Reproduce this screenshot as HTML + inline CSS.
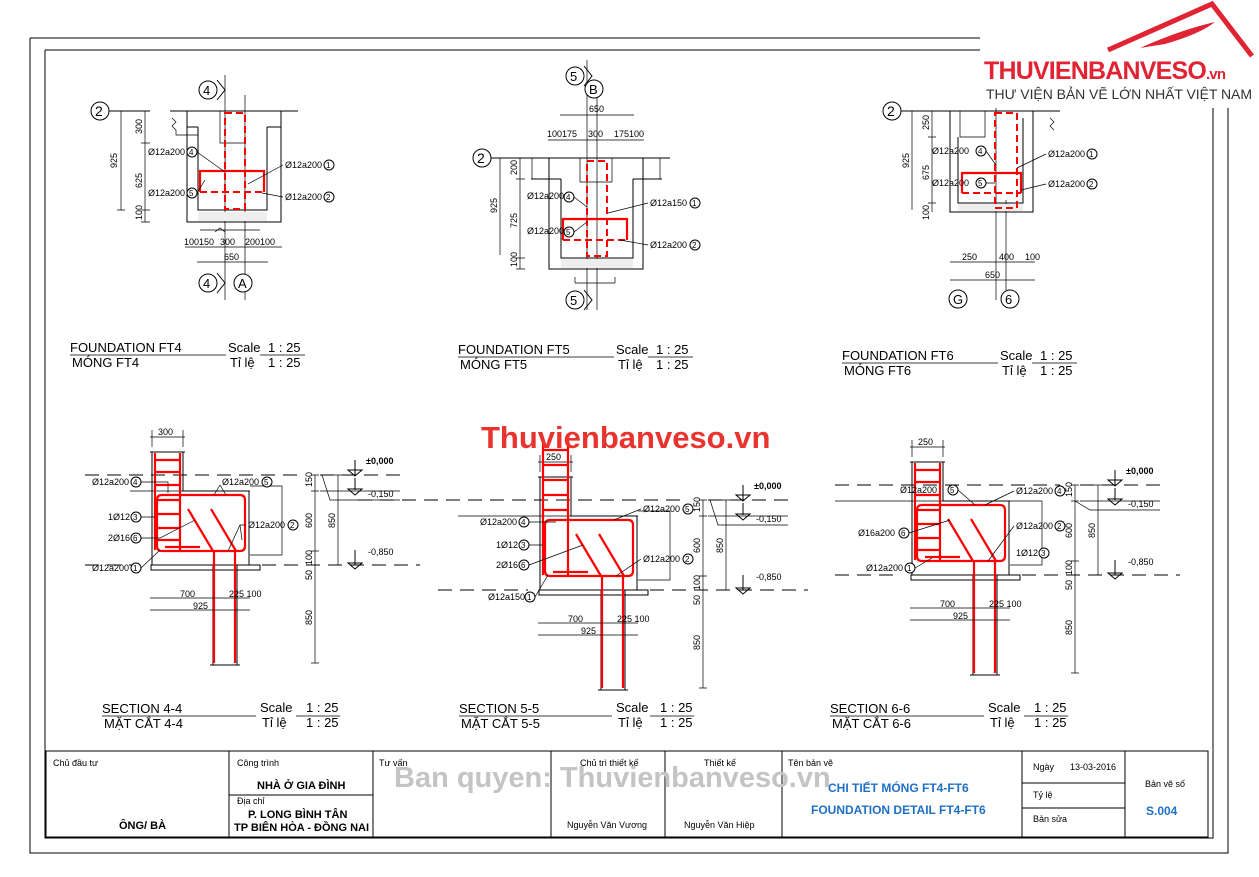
<!DOCTYPE html>
<html><head><meta charset="utf-8"><style>
html,body{margin:0;padding:0;background:#fff;}
svg{display:block;font-family:"Liberation Sans",Arial,sans-serif;}
.t{font-size:9px;fill:#000}
.ti{font-size:13px;fill:#000}
.k{stroke:#000;stroke-width:1;fill:none}
.kt{stroke:#000;stroke-width:0.7;fill:none}
.r{stroke:#f00;stroke-width:2.2;fill:none}
.rd{stroke:#f00;stroke-width:2;fill:none;stroke-dasharray:7 4}
.dsh{stroke:#000;stroke-width:1;fill:none;stroke-dasharray:14 8}
.c{fill:#fff;stroke:#000;stroke-width:1}
</style></head><body>
<svg width="1259" height="877" viewBox="0 0 1259 877">
<path class="k" d="M30 38 H980 M30 38 V853 H1228 V100" stroke-width="1.3"/>
<path class="k" d="M45 50 H980 M45 50 V838 H1213 V100"/>

<g>
<circle class="c" cx="100" cy="111" r="9"/><text x="95" y="116" font-size="14">2</text>
<path class="k" d="M109 111 H150 M170 111 H298"/>
<path class="k" d="M187 111 V222 H281 V111 M198 127 V210 H267 V127 M187 127 H198 M267 127 H281"/>
<path class="kt" d="M172 118 l4 4 -4 4 4 4 M176 130 V135 H198 M220 111 V143 H246"/>
<path class="kt" d="M225 75 V300 M245 95 V300 M215 232 l5 -4 5 4 M200 230 H260"/>
<rect x="198" y="212" width="69" height="9" fill="#eee"/>
<rect class="rd" x="225" y="113" width="20" height="96"/>
<path class="r" d="M200 192 V171 H264 V192"/>
<path class="rd" d="M200 192 H264"/>
<circle class="c" cx="208" cy="90" r="9"/><text x="203" y="95" font-size="13">4</text>
<path class="k" d="M217 80 L225 90 L217 100"/>
<circle class="c" cx="208" cy="283" r="9"/><text x="203" y="288" font-size="13">4</text>
<path class="k" d="M217 273 L225 283 L217 293"/>
<circle class="c" cx="243" cy="283" r="9"/><text x="238" y="288" font-size="13">A</text>
<path class="kt" d="M121 111 V210 M117 111 H125 M117 210 H125 M145 111 V222 M141 111 H150 M141 143 H150 M141 210 H150 M141 222 H150"/>
<text class="t" transform="translate(117 168) rotate(-90)">925</text>
<text class="t" transform="translate(142 134) rotate(-90)">300</text>
<text class="t" transform="translate(142 188) rotate(-90)">625</text>
<text class="t" transform="translate(142 220) rotate(-90)">100</text>
<path class="kt" d="M185 247 H282 M197 262 H268"/>
<text class="t" x="184" y="245">100150</text><text class="t" x="220" y="245">300</text><text class="t" x="245" y="245">200100</text>
<text class="t" x="224" y="260">650</text>
<text class="t" x="148" y="155">Ø12a200</text><circle class="c" cx="192" cy="152" r="5"/><text x="189" y="155" font-size="8">4</text>
<text class="t" x="148" y="196">Ø12a200</text><circle class="c" cx="192" cy="193" r="5"/><text x="189" y="196" font-size="8">5</text>
<text class="t" x="285" y="168">Ø12a200</text><circle class="c" cx="329" cy="165" r="5"/><text x="326" y="168" font-size="8">1</text>
<text class="t" x="285" y="200">Ø12a200</text><circle class="c" cx="329" cy="197" r="5"/><text x="326" y="200" font-size="8">2</text>
<path class="kt" d="M197 152 L225 172 M197 193 L205 180 M283 165 L248 184 M283 197 L262 193"/>
</g>

<g>
<circle class="c" cx="482" cy="158" r="9"/><text x="477" y="163" font-size="14">2</text>
<path class="k" d="M491 158 H670"/>
<path class="k" d="M549 158 V269 H643 V158 M561 179 V258 H633 V179 M531 179 H561 M633 179 H662"/>
<path class="kt" d="M532 158 V179 M660 158 V179 M580 158 V182 H612 V158 M587 60 V310 M597 80 V310 M575 283 H615 M575 283 V277 M615 283 V277"/>
<rect x="561" y="259" width="72" height="9" fill="#eee"/>
<rect class="rd" x="587" y="161" width="20" height="95"/>
<path class="r" d="M563 240 V219 H627 V240"/>
<path class="rd" d="M563 240 H627"/>
<circle class="c" cx="575" cy="76" r="9"/><text x="570" y="81" font-size="13">5</text>
<path class="k" d="M584 66 L592 76 L584 86"/>
<circle class="c" cx="594" cy="89" r="9"/><text x="589" y="94" font-size="13">B</text>
<circle class="c" cx="575" cy="300" r="9"/><text x="570" y="305" font-size="13">5</text>
<path class="k" d="M584 290 L592 300 L584 310"/>
<path class="kt" d="M560 115 H634 M548 140 H644"/>
<text class="t" x="589" y="112">650</text>
<text class="t" x="547" y="137">100175</text><text class="t" x="588" y="137">300</text><text class="t" x="614" y="137">175100</text>
<path class="kt" d="M500 158 V255 M520 158 V269 M516 158 H525 M516 179 H525 M516 258 H525 M516 269 H525"/>
<text class="t" transform="translate(497 213) rotate(-90)">925</text>
<text class="t" transform="translate(517 175) rotate(-90)">200</text>
<text class="t" transform="translate(517 228) rotate(-90)">725</text>
<text class="t" transform="translate(517 267) rotate(-90)">100</text>
<text class="t" x="527" y="199">Ø12a200</text><circle class="c" cx="569" cy="197" r="5"/><text x="566" y="200" font-size="8">4</text>
<text class="t" x="527" y="234">Ø12a200</text><circle class="c" cx="569" cy="232" r="5"/><text x="566" y="235" font-size="8">5</text>
<text class="t" x="650" y="206">Ø12a150</text><circle class="c" cx="695" cy="203" r="5"/><text x="692" y="206" font-size="8">1</text>
<text class="t" x="650" y="248">Ø12a200</text><circle class="c" cx="695" cy="245" r="5"/><text x="692" y="248" font-size="8">2</text>
<path class="kt" d="M574 197 L587 207 M574 232 L587 222 M648 203 L608 213 M648 245 L620 240"/>
</g>

<g>
<circle class="c" cx="892" cy="111" r="9"/><text x="887" y="116" font-size="14">2</text>
<path class="k" d="M901 111 H1060"/>
<path class="k" d="M950 111 V212 H1033 V111 M958 137 V203 H1023 V118"/>
<path class="kt" d="M960 111 V137 H985 V111 M1050 118 l4 4 -4 4 4 4 M996 95 V300 M1006 200 V300"/>
<rect x="958" y="204" width="65" height="7" fill="#eee"/>
<rect class="rd" x="995" y="113" width="22" height="95"/>
<path class="r" d="M962 193 V173 H1021 V193"/>
<path class="rd" d="M962 193 H1021"/>
<circle class="c" cx="958" cy="299" r="9"/><text x="953" y="304" font-size="13">G</text>
<circle class="c" cx="1010" cy="299" r="9"/><text x="1005" y="304" font-size="13">6</text>
<path class="kt" d="M912 111 V210 M932 111 V212 M928 111 H936 M928 137 H936 M928 203 H936"/>
<text class="t" transform="translate(909 168) rotate(-90)">925</text>
<text class="t" transform="translate(929 130) rotate(-90)">250</text>
<text class="t" transform="translate(929 180) rotate(-90)">675</text>
<text class="t" transform="translate(929 220) rotate(-90)">100</text>
<path class="kt" d="M950 262 H1035 M950 280 H1035"/>
<text class="t" x="962" y="260">250</text><text class="t" x="999" y="260">400</text><text class="t" x="1025" y="260">100</text>
<text class="t" x="985" y="278">650</text>
<text class="t" x="932" y="154">Ø12a200</text><circle class="c" cx="981" cy="151" r="5"/><text x="978" y="154" font-size="8">4</text>
<text class="t" x="932" y="186">Ø12a200</text><circle class="c" cx="981" cy="183" r="5"/><text x="978" y="186" font-size="8">5</text>
<text class="t" x="1048" y="157">Ø12a200</text><circle class="c" cx="1092" cy="154" r="5"/><text x="1089" y="157" font-size="8">1</text>
<text class="t" x="1048" y="187">Ø12a200</text><circle class="c" cx="1092" cy="184" r="5"/><text x="1089" y="187" font-size="8">2</text>
<path class="kt" d="M986 151 L996 165 M986 183 L995 183 M1046 154 L1017 168 M1046 184 L1021 190"/>
</g>

<g class="ti">
<text x="70" y="352">FOUNDATION FT4</text><text x="228" y="352">Scale</text><text x="268" y="352">1 : 25</text>
<text x="72" y="367">MÓNG FT4</text><text x="230" y="367">Tỉ lệ</text><text x="268" y="367">1 : 25</text>
<path class="kt" d="M70 355 H226 M260 355 H305"/>
<text x="458" y="354">FOUNDATION FT5</text><text x="616" y="354">Scale</text><text x="656" y="354">1 : 25</text>
<text x="460" y="369">MÓNG FT5</text><text x="618" y="369">Tỉ lệ</text><text x="656" y="369">1 : 25</text>
<path class="kt" d="M458 357 H614 M648 357 H693"/>
<text x="842" y="360">FOUNDATION FT6</text><text x="1000" y="360">Scale</text><text x="1040" y="360">1 : 25</text>
<text x="844" y="375">MÓNG FT6</text><text x="1002" y="375">Tỉ lệ</text><text x="1040" y="375">1 : 25</text>
<path class="kt" d="M842 363 H998 M1032 363 H1077"/>
</g>

<g>
<path class="kt" d="M152 430 V447 M183 430 V447 M150 437 H185"/>
<text class="t" x="158" y="435">300</text>
<path class="k" d="M150 452 H185 M152 452 V565 M183 452 V491 H249 V565 M152 565 H249 M200 565 H255"/>
<path class="k" d="M151 565 H260 V570 H151 Z" fill="#f4f4f4"/>
<path class="k" d="M213 565 V665 M237 565 V665 M210 665 H240"/>
<path class="dsh" d="M85 475 H300 M320 475 H400 M85 565 H140 M262 565 H420"/>
<path class="kt" d="M130 491 H250 M320 491 H400 M250 486 H282 V555 H250"/>
<path class="r" d="M155 453 V550 M180 453 V550 M155 460 H180 M155 472 H180 M155 485 H180 M155 500 H180 M155 514 H180 M155 528 H180 M155 540 H180"/>
<path class="r" d="M162 495 H240 Q245 495 245 500 V546 Q245 551 240 551 H162 Q157 551 157 546 V500 Q157 495 162 495 M165 547 H200"/>
<path class="r" d="M188 509 L213 551 M211 509 L236 551 M214 551 V663 M235 551 V663"/>
<path class="kt" d="M315 475 V663 M311 475 H319 M311 491 H319 M311 551 H319 M311 565 H319 M311 663 H319 M338 475 V565 M334 475 H342 M334 565 H342"/>
<text class="t" transform="translate(312 487) rotate(-90)">150</text>
<text class="t" transform="translate(312 528) rotate(-90)">600</text>
<text class="t" transform="translate(312 565) rotate(-90)">100</text>
<text class="t" transform="translate(312 580) rotate(-90)">50</text>
<text class="t" transform="translate(312 625) rotate(-90)">850</text>
<text class="t" transform="translate(335 528) rotate(-90)">850</text>
<path class="k" d="M355 460 V475 M348 470 H362 L355 476 Z M355 478 V490 M348 489 H362 L355 495 Z M355 550 V565 M348 563 H362 L355 569 Z" fill="#000"/>
<path class="kt" d="M322 475 L330 500 H400"/>
<text class="t" x="366" y="464" font-size="11" font-weight="bold">±0,000</text>
<text class="t" x="368" y="497" font-size="11">-0,150</text>
<text class="t" x="368" y="555" font-size="11">-0,850</text>
<path class="kt" d="M150 598 H250 M150 610 H250"/>
<text class="t" x="180" y="597">700</text><text class="t" x="229" y="597">225 100</text>
<text class="t" x="193" y="609">925</text>
<text class="t" x="92" y="485">Ø12a200</text><circle class="c" cx="136" cy="482" r="5"/><text x="133" y="485" font-size="8">4</text>
<text class="t" x="108" y="520">1Ø12</text><circle class="c" cx="136" cy="517" r="5"/><text x="133" y="520" font-size="8">3</text>
<text class="t" x="108" y="541">2Ø16</text><circle class="c" cx="136" cy="538" r="5"/><text x="133" y="541" font-size="8">6</text>
<text class="t" x="92" y="571">Ø12a200</text><circle class="c" cx="136" cy="568" r="5"/><text x="133" y="571" font-size="8">1</text>
<text class="t" x="222" y="485">Ø12a200</text><circle class="c" cx="267" cy="482" r="5"/><text x="264" y="485" font-size="8">5</text>
<text class="t" x="248" y="528">Ø12a200</text><circle class="c" cx="293" cy="525" r="5"/><text x="290" y="528" font-size="8">2</text>
<path class="kt" d="M141 482 H168 V493 M141 517 H155 M141 538 L160 538 L195 520 M141 568 L160 550 M220 485 L214 495 M220 485 L226 495 M246 525 L240 525 L228 551 M240 525 L242 540"/>
</g>
<g transform="translate(388 25)">
<path class="kt" d="M152 430 V447 M183 430 V447 M150 437 H185"/>
<text class="t" x="158" y="435">250</text>
<path class="k" d="M150 452 H185 M152 452 V565 M183 452 V491 H249 V565 M152 565 H249"/>
<path class="k" d="M151 565 H260 V570 H151 Z" fill="#f4f4f4"/>
<path class="k" d="M213 565 V665 M237 565 V665 M210 665 H240"/>
<path class="dsh" d="M-30 475 H300 M320 475 H400 M50 565 H140 M262 565 H420"/>
<path class="kt" d="M70 491 H250 M320 491 H400 M250 486 H282 V555 H250"/>
<path class="r" d="M155 418 V550 M180 418 V550 M155 425 H180 M155 440 H180 M155 455 H180 M155 470 H180 M155 485 H180"/>
<path class="r" d="M162 495 H240 Q245 495 245 500 V546 Q245 551 240 551 H162 Q157 551 157 546 V500 Q157 495 162 495 M165 547 H200"/>
<path class="r" d="M188 509 L213 551 M211 509 L236 551 M214 551 V663 M235 551 V663"/>
<path class="kt" d="M315 475 V663 M311 475 H319 M311 491 H319 M311 551 H319 M311 565 H319 M311 663 H319 M338 475 V565 M334 475 H342 M334 565 H342"/>
<text class="t" transform="translate(312 487) rotate(-90)">150</text>
<text class="t" transform="translate(312 528) rotate(-90)">600</text>
<text class="t" transform="translate(312 565) rotate(-90)">100</text>
<text class="t" transform="translate(312 580) rotate(-90)">50</text>
<text class="t" transform="translate(312 625) rotate(-90)">850</text>
<text class="t" transform="translate(335 528) rotate(-90)">850</text>
<path class="k" d="M355 460 V475 M348 470 H362 L355 476 Z M355 478 V490 M348 489 H362 L355 495 Z M355 550 V565 M348 563 H362 L355 569 Z" fill="#000"/>
<path class="kt" d="M322 475 L330 500 H400"/>
<text class="t" x="366" y="464" font-size="11" font-weight="bold">±0,000</text>
<text class="t" x="368" y="497" font-size="11">-0,150</text>
<text class="t" x="368" y="555" font-size="11">-0,850</text>
<path class="kt" d="M150 598 H250 M150 610 H250"/>
<text class="t" x="180" y="597">700</text><text class="t" x="229" y="597">225 100</text>
<text class="t" x="193" y="609">925</text>
<text class="t" x="92" y="500">Ø12a200</text><circle class="c" cx="136" cy="497" r="5"/><text x="133" y="500" font-size="8">4</text>
<text class="t" x="108" y="523">1Ø12</text><circle class="c" cx="136" cy="520" r="5"/><text x="133" y="523" font-size="8">3</text>
<text class="t" x="108" y="543">2Ø16</text><circle class="c" cx="136" cy="540" r="5"/><text x="133" y="543" font-size="8">6</text>
<text class="t" x="100" y="575">Ø12a150</text><circle class="c" cx="142" cy="572" r="5"/><text x="139" y="575" font-size="8">1</text>
<text class="t" x="255" y="487">Ø12a200</text><circle class="c" cx="300" cy="484" r="5"/><text x="297" y="487" font-size="8">5</text>
<text class="t" x="255" y="537">Ø12a200</text><circle class="c" cx="300" cy="534" r="5"/><text x="297" y="537" font-size="8">2</text>
<path class="kt" d="M141 497 H168 M141 520 H155 M141 540 L195 520 M147 572 L160 550 M253 484 L226 495 M253 534 L228 551"/>
</g>
<g transform="translate(760 10)">
<path class="kt" d="M152 430 V447 M183 430 V447 M150 437 H185"/>
<text class="t" x="158" y="435">250</text>
<path class="k" d="M150 452 H185 M152 452 V565 M183 452 V491 H249 V565 M152 565 H249"/>
<path class="k" d="M151 565 H260 V570 H151 Z" fill="#f4f4f4"/>
<path class="k" d="M213 565 V665 M237 565 V665 M210 665 H240"/>
<path class="dsh" d="M75 475 H300 M320 475 H400 M75 565 H140 M262 565 H420"/>
<path class="kt" d="M75 491 H250 M320 491 H400 M250 491 H282 V555 H250"/>
<path class="r" d="M155 453 V550 M180 453 V550 M155 460 H180 M155 472 H180 M155 485 H180 M155 500 H180 M155 514 H180 M155 528 H180 M155 540 H180"/>
<path class="r" d="M162 495 H240 Q245 495 245 500 V546 Q245 551 240 551 H162 Q157 551 157 546 V500 Q157 495 162 495 M165 547 H200"/>
<path class="r" d="M188 509 L213 551 M211 509 L236 551 M214 551 V663 M235 551 V663"/>
<path class="kt" d="M315 475 V663 M311 475 H319 M311 491 H319 M311 551 H319 M311 565 H319 M311 663 H319 M338 475 V565 M334 475 H342 M334 565 H342"/>
<text class="t" transform="translate(312 487) rotate(-90)">150</text>
<text class="t" transform="translate(312 528) rotate(-90)">600</text>
<text class="t" transform="translate(312 565) rotate(-90)">100</text>
<text class="t" transform="translate(312 580) rotate(-90)">50</text>
<text class="t" transform="translate(312 625) rotate(-90)">850</text>
<text class="t" transform="translate(335 528) rotate(-90)">850</text>
<path class="k" d="M355 460 V475 M348 470 H362 L355 476 Z M355 478 V490 M348 489 H362 L355 495 Z M355 550 V565 M348 563 H362 L355 569 Z" fill="#000"/>
<path class="kt" d="M315 491 L330 500 H400"/>
<text class="t" x="366" y="464" font-size="11" font-weight="bold">±0,000</text>
<text class="t" x="368" y="497" font-size="11">-0,150</text>
<text class="t" x="368" y="555" font-size="11">-0,850</text>
<path class="kt" d="M150 598 H250 M150 610 H250"/>
<text class="t" x="180" y="597">700</text><text class="t" x="229" y="597">225 100</text>
<text class="t" x="193" y="609">925</text>
<text class="t" x="140" y="483">Ø12a200</text><circle class="c" cx="193" cy="480" r="5"/><text x="190" y="483" font-size="8">5</text>
<text class="t" x="98" y="526">Ø16a200</text><circle class="c" cx="144" cy="523" r="5"/><text x="141" y="526" font-size="8">6</text>
<text class="t" x="106" y="561">Ø12a200</text><circle class="c" cx="150" cy="558" r="5"/><text x="147" y="561" font-size="8">1</text>
<text class="t" x="256" y="484">Ø12a200</text><circle class="c" cx="300" cy="481" r="5"/><text x="297" y="484" font-size="8">4</text>
<text class="t" x="256" y="519">Ø12a200</text><circle class="c" cx="300" cy="516" r="5"/><text x="297" y="519" font-size="8">2</text>
<text class="t" x="256" y="546">1Ø12</text><circle class="c" cx="284" cy="543" r="5"/><text x="281" y="546" font-size="8">3</text>
<path class="kt" d="M198 480 L215 495 M254 481 L225 495 M254 516 L228 551 M149 523 L190 510 M155 558 L172 548"/>
</g>

<g class="ti">
<text x="102" y="713">SECTION 4-4</text><text x="260" y="712">Scale</text><text x="306" y="712">1 : 25</text>
<text x="104" y="728">MẶT CẮT 4-4</text><text x="262" y="727">Tỉ lệ</text><text x="306" y="727">1 : 25</text>
<path class="kt" d="M102 716 H256 M296 716 H340"/>
<text x="459" y="713">SECTION 5-5</text><text x="616" y="712">Scale</text><text x="660" y="712">1 : 25</text>
<text x="461" y="728">MẶT CẮT 5-5</text><text x="618" y="727">Tỉ lệ</text><text x="660" y="727">1 : 25</text>
<path class="kt" d="M459 716 H612 M650 716 H694"/>
<text x="830" y="713">SECTION 6-6</text><text x="988" y="712">Scale</text><text x="1034" y="712">1 : 25</text>
<text x="832" y="728">MẶT CẮT 6-6</text><text x="990" y="727">Tỉ lệ</text><text x="1034" y="727">1 : 25</text>
<path class="kt" d="M830 716 H984 M1024 716 H1068"/>
</g>

<text x="481" y="448" font-size="31" font-weight="bold" fill="#e8332e">Thuvienbanveso.vn</text>

<g>
<rect class="k" x="46" y="751" width="1162" height="86"/>
<path class="k" d="M229 751 V837 M373 751 V837 M551 751 V837 M665 751 V837 M782 751 V837 M1022 751 V837 M1125 751 V837 M229 795 H373 M1022 783 H1125 M1022 808 H1125"/>
<g font-size="9" fill="#000">
<text x="53" y="766">Chủ đầu tư</text>
<text x="237" y="766">Công trình</text>
<text x="237" y="804">Địa chỉ</text>
<text x="379" y="766">Tư vấn</text>
<text x="580" y="766">Chủ trì thiết kế</text>
<text x="704" y="766">Thiết kế</text>
<text x="788" y="766">Tên bản vẽ</text>
<text x="1033" y="770">Ngày</text><text x="1070" y="770">13-03-2016</text>
<text x="1033" y="798">Tỷ lệ</text>
<text x="1033" y="822">Bản sửa</text>
<text x="1145" y="787">Bản vẽ số</text>
<text x="567" y="828">Nguyễn Văn Vương</text>
<text x="684" y="828">Nguyễn Văn Hiệp</text>
</g>
<g font-size="11" font-weight="bold" fill="#000">
<text x="257" y="789">NHÀ Ở GIA ĐÌNH</text>
<text x="248" y="818">P. LONG BÌNH TÂN</text>
<text x="234" y="831">TP BIÊN HÒA - ĐỒNG NAI</text>
<text x="119" y="829">ÔNG/ BÀ</text>
</g>
<g font-size="12" font-weight="bold" fill="#1f6fc5">
<text x="828" y="792">CHI TIẾT MÓNG FT4-FT6</text>
<text x="811" y="814">FOUNDATION DETAIL FT4-FT6</text>
<text x="1146" y="815">S.004</text>
</g>
<text x="394" y="787" font-size="29" font-weight="bold" fill="#c4c4c4">Ban quyen: Thuvienbanveso.vn</text>
</g>

<rect x="980" y="0" width="279" height="108" fill="#fff"/>
<path d="M1108 50 L1212 4 L1252 56" fill="none" stroke="#e02433" stroke-width="5" stroke-linejoin="miter"/>
<path d="M1140 48 Q1180 30 1215 22 Q1200 34 1165 44 Z" fill="#e02433"/>
<text x="984" y="79" font-size="25" font-weight="bold" fill="#e02433" textLength="242">THUVIENBANVESO<tspan font-size="15">.vn</tspan></text>
<text x="986" y="99" font-size="14" fill="#333" textLength="266">THƯ VIỆN BẢN VẼ LỚN NHẤT VIỆT NAM</text>
</svg>
</body></html>
